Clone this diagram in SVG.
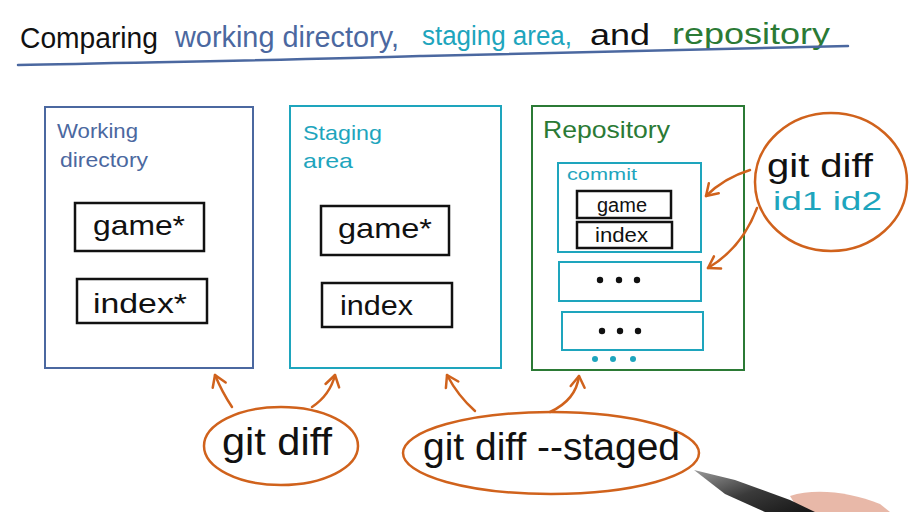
<svg xmlns="http://www.w3.org/2000/svg" width="913" height="512" viewBox="0 0 913 512">
  <defs>
    <style>
      text { font-family: "Liberation Sans", "DejaVu Sans", sans-serif; }
      .box { fill: none; stroke-width: 2; }
      .blue { stroke: #4b68a0; }
      .teal { stroke: #1ea5bd; }
      .green { stroke: #2b7a35; }
      .file { fill: #ffffff; stroke: #111111; stroke-width: 2.5; }
      .bubble { fill: none; stroke: #d0621c; stroke-width: 2.5; }
      .conn { fill: none; stroke: #d0621c; stroke-width: 2.5; stroke-linecap: round; marker-end: url(#head); }
      .ink { fill: #111111; }
      .tBlue { fill: #4b68a0; }
      .tTeal { fill: #1ea5bd; }
      .tGreen { fill: #2b7a35; }
      .dot { fill: #111111; }
      .cdot { fill: #1ea5bd; }
    </style>
    <marker id="head" viewBox="-13 -9 15 18" markerWidth="15" markerHeight="18" refX="0" refY="0" orient="auto" markerUnits="userSpaceOnUse">
      <path d="M-11,-7 L0,0 L-11,7" fill="none" stroke="#d0621c" stroke-width="2.5" stroke-linecap="round" stroke-linejoin="round"/>
    </marker>
    <linearGradient id="penGrad" x1="0" y1="0" x2="1" y2="1">
      <stop offset="0" stop-color="#9a9a9a"/>
      <stop offset="0.5" stop-color="#3a3a3a"/>
      <stop offset="1" stop-color="#151515"/>
    </linearGradient>
  </defs>

  <rect width="913" height="512" fill="#ffffff"/>

  <!-- Title -->
  <g id="title">
    <text x="20" y="48" font-size="30" class="ink" textLength="138" lengthAdjust="spacingAndGlyphs">Comparing</text>
    <text x="175" y="47" font-size="29" class="tBlue" textLength="224" lengthAdjust="spacingAndGlyphs">working directory,</text>
    <text x="422" y="45" font-size="27" class="tTeal" textLength="150" lengthAdjust="spacingAndGlyphs">staging area,</text>
    <text x="590" y="45" font-size="30" class="ink" textLength="60" lengthAdjust="spacingAndGlyphs">and</text>
    <text x="672" y="44" font-size="30" class="tGreen" textLength="158" lengthAdjust="spacingAndGlyphs">repository</text>
    <path d="M18,65 C150,62 300,60 420,56 C560,52 700,50 848,46" fill="none" stroke="#4b68a0" stroke-width="2.5" stroke-linecap="round"/>
  </g>

  <!-- Working directory -->
  <g id="working-directory">
    <rect x="45" y="107" width="208" height="261" class="box blue"/>
    <text x="57" y="138" font-size="21" class="tBlue" textLength="81" lengthAdjust="spacingAndGlyphs">Working</text>
    <text x="60" y="167" font-size="21" class="tBlue" textLength="88" lengthAdjust="spacingAndGlyphs">directory</text>
    <g id="wd-game">
      <rect x="75" y="203" width="129" height="48" class="file"/>
      <text x="93" y="235" font-size="28" class="ink" textLength="92" lengthAdjust="spacingAndGlyphs">game*</text>
    </g>
    <g id="wd-index">
      <rect x="77" y="279" width="130" height="44" class="file"/>
      <text x="93" y="313" font-size="28" class="ink" textLength="94" lengthAdjust="spacingAndGlyphs">index*</text>
    </g>
  </g>

  <!-- Staging area -->
  <g id="staging-area">
    <rect x="290" y="106" width="211" height="262" class="box teal"/>
    <text x="303" y="140" font-size="21" class="tTeal" textLength="79" lengthAdjust="spacingAndGlyphs">Staging</text>
    <text x="303" y="168" font-size="21" class="tTeal" textLength="50" lengthAdjust="spacingAndGlyphs">area</text>
    <g id="sa-game">
      <rect x="321" y="206" width="128" height="49" class="file"/>
      <text x="338" y="238" font-size="28" class="ink" textLength="94" lengthAdjust="spacingAndGlyphs">game*</text>
    </g>
    <g id="sa-index">
      <rect x="322" y="283" width="130" height="44" class="file"/>
      <text x="340" y="315" font-size="28" class="ink" textLength="73" lengthAdjust="spacingAndGlyphs">index</text>
    </g>
  </g>

  <!-- Repository -->
  <g id="repository">
    <rect x="532" y="106" width="212" height="264" class="box green"/>
    <text x="543" y="138" font-size="24" class="tGreen" textLength="127" lengthAdjust="spacingAndGlyphs">Repository</text>
    <g id="commit-1">
      <rect x="558" y="163" width="143" height="89" class="box teal"/>
      <text x="567" y="180" font-size="17" class="tTeal" textLength="70" lengthAdjust="spacingAndGlyphs">commit</text>
      <rect x="577" y="191" width="94" height="27" class="file"/>
      <text x="597" y="212" font-size="20" class="ink" textLength="50" lengthAdjust="spacingAndGlyphs">game</text>
      <rect x="577" y="222" width="95" height="26" class="file"/>
      <text x="595" y="242" font-size="20" class="ink" textLength="53" lengthAdjust="spacingAndGlyphs">index</text>
    </g>
    <g id="commit-2">
      <rect x="559" y="262" width="142" height="39" class="box teal"/>
      <circle cx="600" cy="280" r="3.2" class="dot"/>
      <circle cx="619" cy="280" r="3.2" class="dot"/>
      <circle cx="637" cy="280" r="3.2" class="dot"/>
    </g>
    <g id="commit-3">
      <rect x="562" y="312" width="141" height="38" class="box teal"/>
      <circle cx="602" cy="331" r="3.2" class="dot"/>
      <circle cx="620" cy="331" r="3.2" class="dot"/>
      <circle cx="638" cy="331" r="3.2" class="dot"/>
    </g>
    <g id="more-commits">
      <circle cx="595" cy="359" r="3" class="cdot"/>
      <circle cx="613" cy="359" r="3" class="cdot"/>
      <circle cx="633" cy="359" r="3" class="cdot"/>
    </g>
  </g>

  <!-- git diff id1 id2 -->
  <g id="git-diff-ids">
    <ellipse cx="831" cy="182" rx="76" ry="69" class="bubble"/>
    <text x="767" y="177" font-size="34" class="ink" textLength="106" lengthAdjust="spacingAndGlyphs">git diff</text>
    <text x="773" y="210" font-size="26" class="tTeal" textLength="109" lengthAdjust="spacingAndGlyphs">id1 id2</text>
  </g>

  <!-- git diff (working vs staging) -->
  <g id="git-diff">
    <ellipse cx="281" cy="446" rx="77" ry="39" class="bubble"/>
    <text x="222" y="455" font-size="38" class="ink" textLength="110" lengthAdjust="spacingAndGlyphs">git diff</text>
  </g>

  <!-- git diff staged (staging vs repository) -->
  <g id="git-diff-staged">
    <ellipse cx="551" cy="453" rx="148" ry="41" class="bubble"/>
    <text x="423" y="460" font-size="38" class="ink" textLength="257" lengthAdjust="spacingAndGlyphs">git diff --staged</text>
  </g>

  <!-- Connectors -->
  <g id="connectors">
    <path d="M232,407 Q222,392 215,375" class="conn"/>
    <path d="M312,407 Q330,395 335,375" class="conn"/>
    <path d="M475,411 Q458,396 447,375" class="conn"/>
    <path d="M550,412 Q576,400 579,376" class="conn"/>
    <path d="M750,170 Q724,178 706,196" class="conn"/>
    <path d="M757,208 Q742,248 708,268" class="conn"/>
  </g>

  <!-- Pen and hand -->
  <g id="pen">
    <path d="M790,496 C815,488 850,492 880,504 L890,512 L800,512 Z" fill="#e8b8a8"/>
    <path d="M694,470 L735,480 L790,500 L815,512 L765,512 L725,494 Z" fill="url(#penGrad)"/>
  </g>
</svg>
